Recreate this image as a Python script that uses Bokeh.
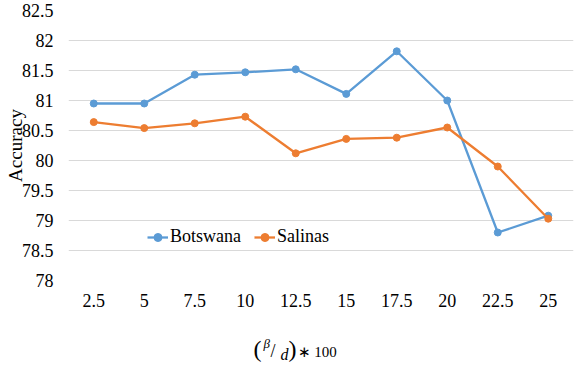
from bokeh.plotting import figure
from bokeh.layouts import column
from bokeh.models import FactorRange, Range1d, Legend, LegendItem, FixedTicker, NumeralTickFormatter
from bokeh.embed import file_html
from bokeh.resources import INLINE
from bokeh.core.properties import value

categories = ["2.5", "5", "7.5", "10", "12.5", "15", "17.5", "20", "22.5", "25"]
botswana = [80.95, 80.95, 81.43, 81.47, 81.52, 81.11, 81.82, 81.00, 78.80, 79.08]
salinas = [80.64, 80.54, 80.62, 80.73, 80.12, 80.36, 80.38, 80.55, 79.90, 79.03]
y_ticks = [78, 78.5, 79, 79.5, 80, 80.5, 81, 81.5, 82, 82.5]

FONT = "Liberation Serif"
BLUE = "#5B9BD5"
ORANGE = "#ED7D31"
GRID = "#D9D9D9"

p = figure(width=574, height=330,
           x_range=FactorRange(*categories, range_padding=0),
           y_range=Range1d(78, 82.5),
           output_backend="svg", toolbar_location=None,
           min_border_left=68, min_border_right=1,
           min_border_top=10, min_border_bottom=50)
p.outline_line_color = None
p.background_fill_color = "white"
p.border_fill_color = "white"

p.xgrid.grid_line_color = None
p.ygrid.grid_line_color = GRID
p.ygrid.grid_line_width = 1
p.yaxis.ticker = FixedTicker(ticks=y_ticks)
p.yaxis.formatter = NumeralTickFormatter(format="0.[0]")

for ax in (p.xaxis, p.yaxis):
    ax.axis_line_color = None
    ax.major_tick_line_color = None
    ax.minor_tick_line_color = None
    ax.major_tick_out = 0
    ax.major_tick_in = 0
    ax.minor_tick_out = 0
    ax.minor_tick_in = 0
    ax.major_label_text_font = FONT
    ax.major_label_text_font_style = "normal"
    ax.major_label_text_font_size = "18px"
    ax.major_label_text_color = "black"
p.yaxis.major_label_standoff = 15
p.xaxis.major_label_standoff = 13
p.yaxis.axis_label = "Accuracy"
p.yaxis.axis_label_text_font = FONT
p.yaxis.axis_label_text_font_size = "19px"
p.yaxis.axis_label_text_font_style = "normal"
p.yaxis.axis_label_text_color = "black"
p.yaxis.axis_label_standoff = -7

lb = p.line(categories, botswana, line_color=BLUE, line_width=2.3)
sb = p.scatter(categories, botswana, marker="circle", size=7, fill_color=BLUE, line_color=BLUE)
lo = p.line(categories, salinas, line_color=ORANGE, line_width=2.3)
so = p.scatter(categories, salinas, marker="circle", size=7, fill_color=ORANGE, line_color=ORANGE)

legend = Legend(items=[LegendItem(label="Botswana", renderers=[lb, sb]),
                       LegendItem(label="Salinas", renderers=[lo, so])],
                location=(79, 33), orientation="horizontal",
                padding=0, margin=0, spacing=13, glyph_width=21, glyph_height=20,
                label_height=20, label_standoff=2,
                border_line_color=None, background_fill_alpha=0,
                label_text_font=FONT, label_text_font_size="18px",
                label_text_color="black", label_text_baseline="middle")
p.add_layout(legend)

# x-axis title strip "(β/d) ∗ 100"; its frame is aligned with the main plot frame (68..573 px)
t = figure(width=574, height=36, x_range=Range1d(68, 573), y_range=Range1d(366, 330),
           output_backend="svg", toolbar_location=None,
           x_axis_location=None, y_axis_location=None,
           min_border_left=68, min_border_right=1,
           min_border_top=0, min_border_bottom=0)
t.outline_line_color = None
t.background_fill_color = "white"
t.grid.visible = False

title_parts = [
    ("(", 253, 348, "24px", "normal"),
    ("β", 263, 343, "13px", "italic"),
    ("/", 270, 350, "18px", "normal"),
    ("d", 280, 354, "16px", "italic"),
    (")", 288, 348, "24px", "normal"),
    ("∗ 100", 297, 351, "15px", "normal"),
]
for txt, xx, yy, fs, st in title_parts:
    t.text(x=[xx], y=[yy], text=[txt], text_font=value(FONT), text_font_size=value(fs),
           text_font_style=value(st), text_color="black",
           text_align="left", text_baseline="middle")

layout = column(p, t, spacing=0)
open("out.html", "w").write(file_html(layout, INLINE))
